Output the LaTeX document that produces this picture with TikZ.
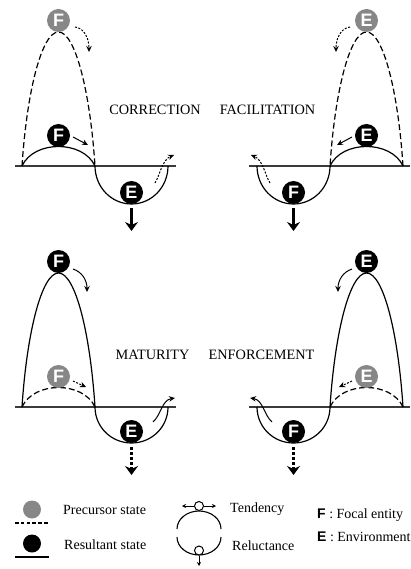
\documentclass[tikz,border=0pt]{standalone}
\usepackage{fontspec}
\setmainfont{Liberation Serif}
\newfontfamily\sansfam{Liberation Sans}
\usetikzlibrary{arrows.meta}
\definecolor{pregray}{HTML}{878787}
\definecolor{groundgray}{HTML}{3A3A3A}
\tikzset{
  ball/.style={circle, inner sep=0pt, minimum size=23pt, text=white, font=\sansfam\bfseries\fontsize{18}{18}\selectfont},
  preball/.style={ball, fill=pregray},
  resball/.style={ball, fill=black},
  ground/.style={line width=1.3pt, draw=groundgray},
  solidcurve/.style={line width=1.2pt},
  dashcurve/.style={line width=1.2pt, dash pattern=on 6pt off 3pt},
  smallarrow/.style={line width=1pt, -{Stealth[length=6pt,width=5.5pt]}},
  dotarrow/.style={smallarrow, dash pattern=on 2pt off 1.5pt},
  bigarrow/.style={line width=2.3pt, -{Stealth[length=9pt,width=13pt,inset=3pt]}},
  bigdotarrow/.style={bigarrow, line width=3pt, dash pattern=on 3pt off 2pt},
  paneltext/.style={inner sep=0pt, anchor=base, font=\fontsize{14.3}{16}\selectfont},
  legtext/.style={inner sep=0pt, anchor=base west, font=\fontsize{14}{16}\selectfont},
  legball/.style={circle, inner sep=0pt, minimum size=18pt},
  iconline/.style={line width=1.1pt},
  iconball/.style={circle, draw, fill=white, line width=1pt, inner sep=0pt, minimum size=9pt},
  iconarrow/.style={line width=0.8pt, -{Stealth[length=4pt,width=4pt]}},
}
\newcommand{\toppanel}[3]{%
  \draw[ground] (15,166) -- (176,166);
  \draw[dashcurve] (22,166) .. controls (27,90) and (42,32) .. (58.5,32) .. controls (75,32) and (90,90) .. (95,166);
  \draw[solidcurve] (22,166) .. controls (34,140) and (83,140) .. (95,166);
  \draw[solidcurve] (95,166) .. controls (95,187) and (111.3,204) .. (131.5,204) .. controls (151.7,204) and (168,187) .. (168,166);
  \node[preball] (#1-pre) at (58.5,20.5) {#2};
  \node[resball] (#1-res) at (58.5,135.5) {#2};
  \node[resball] (#1-val) at (131.5,192.5) {#3};
  \coordinate (#1-p1) at (75,27);
  \coordinate (#1-p2) at (89,52);
  \draw[dotarrow] (#1-p1) .. controls (84,28) and (89,38) .. (#1-p2);
  \coordinate (#1-r1) at (73,137);
  \coordinate (#1-r2) at (88,145);
  \draw[smallarrow] (#1-r1) -- (#1-r2);
  \coordinate (#1-v1) at (155,183);
  \coordinate (#1-v2) at (174,155);
  \draw[dotarrow] (#1-v1) .. controls (160,175) and (162,160) .. (#1-v2);
  \coordinate (#1-d1) at (131.5,208);
  \coordinate (#1-d2) at (131.5,231);
  \draw[bigarrow] (#1-d1) -- (#1-d2);
}
\newcommand{\botpanel}[3]{%
  \draw[ground] (15,166) -- (176,166);
  \draw[solidcurve] (22,166) .. controls (27,90) and (42,32) .. (58.5,32) .. controls (75,32) and (90,90) .. (95,166);
  \draw[dashcurve] (22,166) .. controls (34,140) and (83,140) .. (95,166);
  \draw[solidcurve] (95,166) .. controls (95,186) and (111.3,202) .. (131.5,202) .. controls (151.7,202) and (168,186) .. (168,166);
  \node[resball] (#1-res) at (58.5,20.5) {#2};
  \node[preball] (#1-pre) at (58.5,135.5) {#2};
  \node[resball] (#1-val) at (131.5,190.5) {#3};
  \coordinate (#1-r1) at (73,28);
  \coordinate (#1-r2) at (87,51);
  \draw[smallarrow] (#1-r1) .. controls (82,31) and (87,39) .. (#1-r2);
  \coordinate (#1-p1) at (73,140);
  \coordinate (#1-p2) at (86,146);
  \draw[dotarrow] (#1-p1) -- (#1-p2);
  \coordinate (#1-v1) at (153,181);
  \coordinate (#1-v2) at (175,157);
  \draw[smallarrow] (#1-v1) .. controls (161,174) and (162,159) .. (#1-v2);
  \coordinate (#1-d1) at (131.5,206);
  \coordinate (#1-d2) at (131.5,234);
  \draw[bigdotarrow] (#1-d1) -- (#1-d2);
}
\begin{document}
\begin{tikzpicture}[x=1pt,y=-1pt]
\useasboundingbox (0,0) rectangle (411,569);
\toppanel{tl}{F}{E}
\begin{scope}[shift={(425,0)}, xscale=-1]
  \toppanel{tr}{E}{F}
\end{scope}
\begin{scope}[shift={(0,241)}]
  \botpanel{bl}{F}{E}
\end{scope}
\begin{scope}[shift={(425,241)}, xscale=-1]
  \botpanel{br}{E}{F}
\end{scope}
\node[paneltext] (lab-cor) at (155,114.6) {CORRECTION};
\node[paneltext] (lab-fac) at (267.5,114.6) {FACILITATION};
\node[paneltext] (lab-mat) at (152.5,359.6) {MATURITY};
\node[paneltext] (lab-enf) at (261.5,359.6) {ENFORCEMENT};
% legend
\node[legball, fill=pregray] (lg-pre) at (32,509.5) {};
\draw[line width=1.3pt, dash pattern=on 3.5pt off 2.3pt] (15,523) -- (49,523);
\node[legball, fill=black] (lg-res) at (32,543.5) {};
\draw[line width=1.3pt] (15,557) -- (49,557);
\node[legtext] (lg-pretxt) at (63,514.5) {Precursor state};
\node[legtext] (lg-restxt) at (64,549.5) {Resultant state};
\draw[iconline] (177,529) .. controls (177,519) and (187,511) .. (199,511) .. controls (211,511) and (221,519) .. (221,529);
\node[iconball] (ic-ten) at (199,506) {};
\coordinate (ic-tl) at (182,506);
\coordinate (ic-tr) at (216,506);
\draw[iconarrow] (ic-ten.west) -- (ic-tl);
\draw[iconarrow] (ic-ten.east) -- (ic-tr);
\draw[iconline] (177,537) .. controls (177,547) and (187,555) .. (199,555) .. controls (211,555) and (221,547) .. (221,537);
\node[iconball] (ic-rel) at (199,550.5) {};
\coordinate (ic-rd) at (199,566);
\draw[iconarrow] (ic-rel.south) -- (ic-rd);
\node[legtext] (lg-ten) at (230,512.5) {Tendency};
\node[legtext] (lg-rel) at (232,550.5) {Reluctance};
\node[legtext] (lg-f) at (317,518.5) {{\sansfam\bfseries F} : Focal entity};
\node[legtext] (lg-e) at (317,541.5) {{\sansfam\bfseries E} : Environment};
\end{tikzpicture}
\end{document}
